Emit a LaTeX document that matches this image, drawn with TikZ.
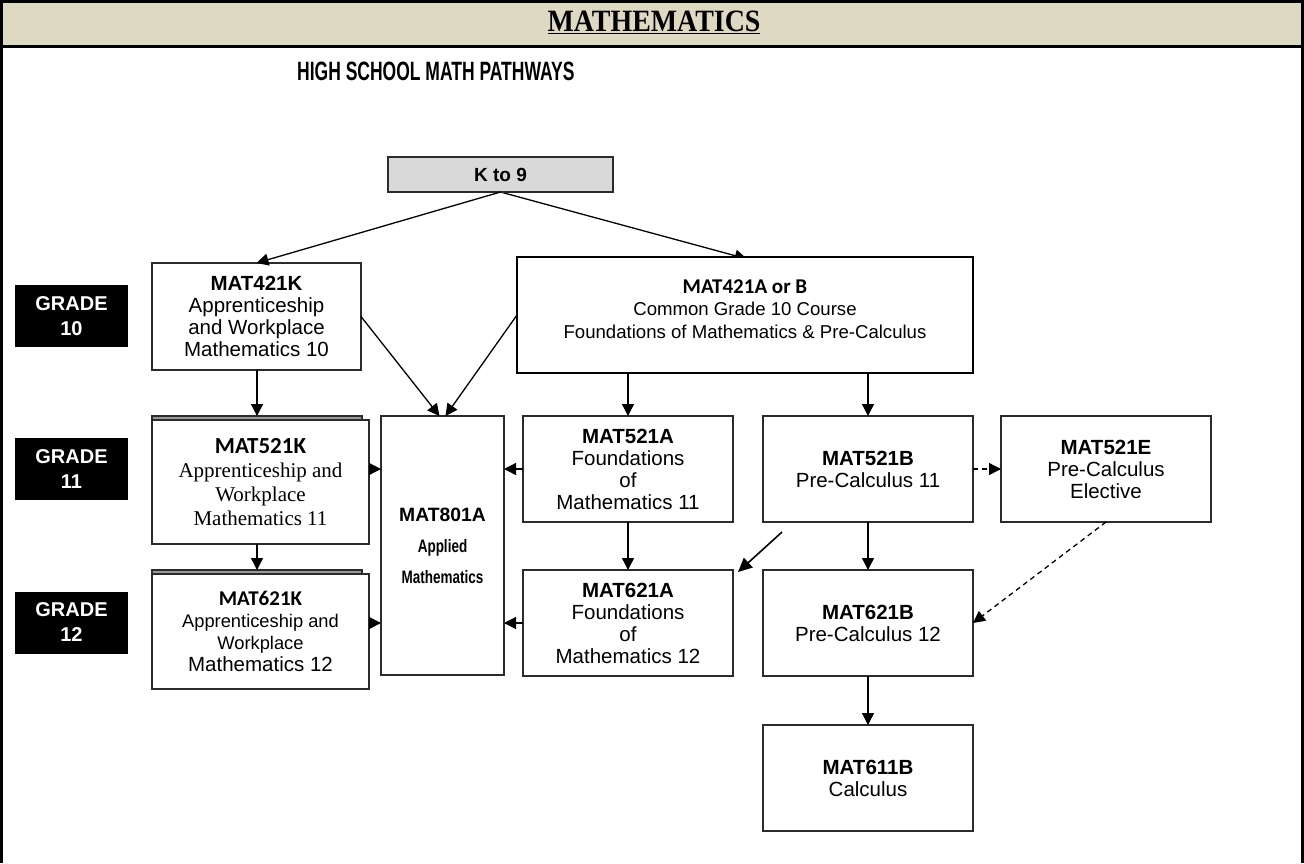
\documentclass[tikz,border=0pt]{standalone}
\usepackage{fontspec}
\setmainfont{Liberation Sans}
\newfontfamily\serifbox{Liberation Serif}
\newfontfamily\titleserif[FakeStretch=0.9]{Liberation Serif}
\newfontfamily\calib{Carlito}
\newfontfamily\narrowbold[FakeStretch=0.75]{Liberation Sans}
\newfontfamily\condbold[FakeStretch=0.66]{Liberation Sans}
\usetikzlibrary{positioning, arrows.meta, backgrounds}
\definecolor{hdrbg}{HTML}{DDD9C3}
\definecolor{kbg}{HTML}{D9D9D9}
\definecolor{edge}{HTML}{2B2B2B}
\definecolor{shade}{HTML}{9A9A9A}

\begin{document}
\begin{tikzpicture}[
    x=1pt, y=-1pt,
    font=\fontsize{20.5}{22}\selectfont,
    course/.style={
        rectangle, draw=edge, line width=1.4pt, fill=white,
        minimum width=#1, minimum height=106pt,
        inner sep=2pt, outer sep=0pt, align=center
    },
    course/.default=210pt,
    backbox/.style={rectangle, draw=edge, line width=1.2pt, fill=shade,
        minimum width=210pt, minimum height=124pt, inner sep=0pt, outer sep=0pt},
    grade/.style={
        rectangle, fill=black, text=white, minimum width=113pt, minimum height=62pt,
        inner sep=0pt, align=center, font=\bfseries\fontsize{20}{25}\selectfont
    },
    arr/.style={-{Triangle[length=12pt, width=12pt]}, draw=black, line width=1.3pt},
    darr/.style={arr, dash pattern=on 5pt off 4pt},
]
\useasboundingbox (0,0) rectangle (1304,863);

% ---------------------------------------------------------------- header
\fill [hdrbg] (0,0) rectangle (1304,46);
\draw [line width=3pt] (1.5,863) -- (1.5,1.5) -- (1302.5,1.5) -- (1302.5,863);
\draw [line width=3pt] (0,46.5) -- (1304,46.5);

\node (title) [anchor=base] at (654,31)
    {\titleserif\bfseries\fontsize{31}{34}\selectfont\underline{MATHEMATICS}};
\node (sub) [anchor=base west, inner sep=0pt] at (297,80)
    {\condbold\bfseries\fontsize{26.5}{28}\selectfont HIGH SCHOOL MATH PATHWAYS};

% ---------------------------------------------------------------- grade 10
\node (k9) [course=225pt, minimum height=35pt, fill=kbg,
    font=\bfseries\fontsize{19}{22}\selectfont] at (500.5,174.5) {K to 9};

\node (k10) [course=209pt, minimum height=107pt] at (256.5,316.5)
    {\textbf{MAT421K}\\Apprenticeship\\and Workplace\\Mathematics 10};
\node (a10) [course=456pt, minimum height=116pt, draw=black, line width=2pt,
    font=\fontsize{18.6}{22.5}\selectfont] at (745,315)
    {{\calib\bfseries\fontsize{21}{22.5}\selectfont MAT421A or B}\\Common Grade 10 Course\\Foundations of Mathematics \& Pre-Calculus\\[-10pt]\rule{0pt}{1pt}};

% ---------------------------------------------------------------- grade 11 / 12
\node (k11b) [backbox] at (257,478) {};
\node (k11) [course=217pt, minimum height=124pt, font=\serifbox\fontsize{21}{24}\selectfont]
    at (260.5,482)
    {{\calib\bfseries\fontsize{23}{26}\selectfont MAT521K}\\Apprenticeship and\\Workplace\\Mathematics 11};
\node (k12b) [backbox, minimum height=115pt] at (257,627.5) {};
\node (k12) [course=217pt, minimum height=115pt] at (260.5,631.5)
    {{\calib\bfseries\fontsize{21}{22}\selectfont MAT621K}\\{\fontsize{18.3}{22}\selectfont Apprenticeship and}\\{\fontsize{18.3}{22}\selectfont Workplace}\\Mathematics 12};

\node (m801) [course=123pt, minimum height=259pt, font=\fontsize{18}{31}\selectfont]
    at (442.5,545.5)
    {{\bfseries\fontsize{19.3}{31}\selectfont MAT801A}\\{\narrowbold\bfseries Applied}\\{\narrowbold\bfseries Mathematics}};

\node (a11) [course] at (628,469) {\textbf{MAT521A}\\Foundations\\of\\Mathematics 11};
\node (a12) [course, below=48pt of a11] {\textbf{MAT621A}\\Foundations\\of\\Mathematics 12};

\node (b11) [course, right=30pt of a11] {\textbf{MAT521B}\\Pre-Calculus 11};
\node (e11) [course, right=28pt of b11] {\textbf{MAT521E}\\Pre-Calculus\\Elective};
\node (b12) [course, below=48pt of b11] {\textbf{MAT621B}\\Pre-Calculus 12};
\node (c12) [course, below=49pt of b12] {\textbf{MAT611B}\\Calculus};

\node (g10) [grade] at (71.5,316)   {GRADE\\10};
\node (g11) [grade] at (71.5,469)   {GRADE\\11};
\node (g12) [grade] at (71.5,622.5) {GRADE\\12};

% ---------------------------------------------------------------- arrows
\begin{scope}[on background layer]
\draw [arr, shorten >=-7pt] (k9.south) -- ([xshift=-5pt]a10.north);
\end{scope}
\draw [arr] (k9.south) -- (k10.north);
\draw [arr] (k10.east) -- ([xshift=-3pt]m801.north);
\draw [arr] (a10.west) -- ([xshift=3pt]m801.north);

\draw [arr] (k11b.north |- k10.south) -- (k11b.north);
\draw [arr] (k12b.north |- k11.south) -- (k12b.north);
\draw [arr] (a11.west -| k11.east) -- (a11.west -| m801.west);
\draw [arr] (a12.west -| k12.east) -- (a12.west -| m801.west);

\draw [arr] (a10.south -| a11.north) -- (a11.north);
\draw [arr] (a10.south -| b11.north) -- (b11.north);
\draw [arr] (a11.west) -- (a11.west -| m801.east);
\draw [arr] (a12.west) -- (a12.west -| m801.east);
\draw [arr] (a11) -- (a12);

\draw [arr]  (b11) -- (b12);
\draw [arr]  (b12) -- (c12);
\draw [darr] (b11) -- (e11);
\draw [darr] (e11.south) -- (b12.east);

\coordinate (hint) at (782,532);
\draw [arr, line width=1.6pt, -{Triangle[length=14pt, width=13pt]}] (hint) -- ([xshift=5pt, yshift=-2pt]a12.north east);

\end{tikzpicture}
\end{document}
